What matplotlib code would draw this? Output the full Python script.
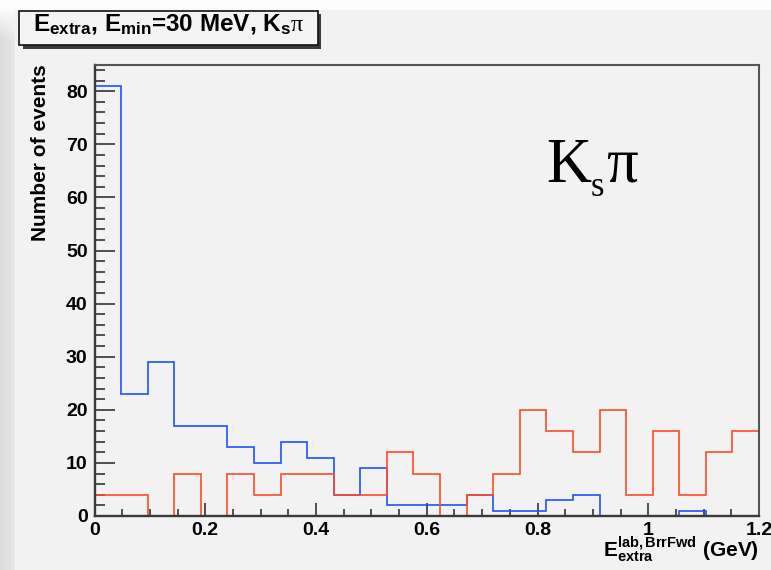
import numpy as np
import matplotlib
matplotlib.use("Agg")
import matplotlib.pyplot as plt
from matplotlib.patches import Rectangle
from matplotlib.ticker import MultipleLocator

# Histogram binning (GeV)
x_min, x_max, n_bins = 0.0, 1.2, 25
edges = np.linspace(x_min, x_max, n_bins + 1)

# Bin contents
blue_counts = [81, 23, 29, 17, 17, 13, 10, 14, 11, 4, 9, 2, 2, 2, 4,
               1, 1, 3, 4, 0, 0, 0, 1, 0, 0]
red_counts = [4, 4, 0, 8, 0, 8, 4, 8, 8, 4, 4, 12, 8, 0, 4,
              8, 20, 16, 12, 20, 4, 16, 4, 12, 16]

x_ticks = [0.0, 0.2, 0.4, 0.6, 0.8, 1.0, 1.2]
x_tick_labels = ["0", "0.2", "0.4", "0.6", "0.8", "1", "1.2"]
y_ticks = [0, 10, 20, 30, 40, 50, 60, 70, 80]
y_tick_labels = [str(v) for v in y_ticks]
y_max = 85

title_text = (r"$\mathbf{E}_{\mathbf{extra}}$, $\mathbf{E}_{\mathbf{min}}$"
              r"=30 MeV, $\mathbf{K}_{\mathbf{s}}\mathrm{\pi}$")
x_label = r"$\mathbf{E}_{\mathbf{extra}}^{\mathbf{lab,BrrFwd}}$ (GeV)"
y_label = "Number of events"

plt.rcParams.update({
    "font.family": ["Liberation Sans", "DejaVu Sans"],
    "font.weight": "bold",
    "mathtext.fontset": "custom",
    "mathtext.rm": "Liberation Serif:weight=normal",
    "mathtext.bf": "Liberation Sans:weight=bold",
    "mathtext.it": "Liberation Sans:style=italic:weight=normal",
    "mathtext.sf": "Liberation Sans:weight=normal",
})

W, H = 771, 570
fig = plt.figure(figsize=(W / 100, H / 100), dpi=100, facecolor="#f2f2f2")


def fx(px):
    return px / W


def fy(py):
    return 1.0 - py / H


# Canvas background with a soft band on the left and a light band on top
bg = fig.add_axes([0, 0, 1, 1], zorder=-10)
bg.axis("off")
shade = np.full((H, W), 0.949)
cols = np.arange(W)
left = cols < 15
shade[:, left] = 0.855 + 0.055 * cols[left] / 15.0
shade[:10, :] = 0.985
rows = np.arange(10, 40)
fade = (rows - 10) / 30.0
for i, r in enumerate(rows):
    shade[r, left] = shade[r, left] * fade[i] + 0.975 * (1 - fade[i])
bg.imshow(shade, cmap="gray", vmin=0, vmax=1, aspect="auto",
          interpolation="bilinear")

# Main frame
ax = fig.add_axes([fx(94.5), fy(516), fx(759) - fx(94.5), fy(64.7) - fy(516)])
ax.set_facecolor("#f2f2f2")
ax.stairs(blue_counts, edges, color="#2050ff", lw=1.2, zorder=2)
ax.stairs(red_counts, edges, color="#ff4a2a", lw=1.2, zorder=3)

ax.set_xlim(x_min, x_max)
ax.set_ylim(0, y_max)
ax.set_xticks(x_ticks, x_tick_labels)
ax.set_yticks(y_ticks, y_tick_labels)
ax.xaxis.set_minor_locator(MultipleLocator(0.05))
ax.yaxis.set_minor_locator(MultipleLocator(2))
ax.tick_params(which="both", direction="in", top=False, right=False,
               color="#222222", width=1.1, labelsize=14)
ax.tick_params(axis="y", which="major", length=14.5, pad=5)
ax.tick_params(axis="y", which="minor", length=7.3)
ax.tick_params(axis="x", which="major", length=9.6, pad=4)
ax.tick_params(axis="x", which="minor", length=4.8)
for lbl in ax.get_xticklabels() + ax.get_yticklabels():
    lbl.set_fontweight("bold")
for side in ("left", "bottom"):
    ax.spines[side].set_linewidth(1.7)
    ax.spines[side].set_color("#3a3a3a")
for side in ("top", "right"):
    ax.spines[side].set_linewidth(1.5)
    ax.spines[side].set_color("#555555")
for sp in ax.spines.values():
    sp.set_zorder(5)

# Axis titles
fig.text(fx(41), fy(64), y_label, rotation=90, ha="center", va="top",
         fontsize=15, fontweight="bold")
fig.text(fx(759), fy(557), x_label, ha="right", va="baseline",
         fontsize=15, fontweight="bold")

# Channel label inside the frame: K, subscript s, pi
serif = ["Liberation Serif", "DejaVu Serif"]
fig.text(fx(546), fy(182), "K", ha="left", va="baseline", fontsize=45,
         family=serif, fontweight="normal")
fig.text(fx(591), fy(196), "s", ha="left", va="baseline", fontsize=25,
         family=serif, fontweight="normal")
fig.text(fx(606), fy(182), "\u03c0", ha="left", va="baseline", fontsize=45,
         family=serif, fontweight="normal")

# Title box with drop shadow
bw, bh = fx(318) - fx(19), fy(11) - fy(45)
fig.add_artist(Rectangle((fx(22.5), fy(48.5)), bw, bh, transform=fig.transFigure,
                         facecolor="#3c3c3c", edgecolor="none", zorder=1))
fig.add_artist(Rectangle((fx(19), fy(45)), bw, bh, transform=fig.transFigure,
                         facecolor="#f4f4f4", edgecolor="#111111", lw=1.2,
                         zorder=2))
fig.text(fx(168.5), fy(31), title_text, ha="center", va="baseline",
         fontsize=17.5, fontweight="bold", zorder=3)

fig.savefig("out.png", dpi=100, facecolor=fig.get_facecolor())
